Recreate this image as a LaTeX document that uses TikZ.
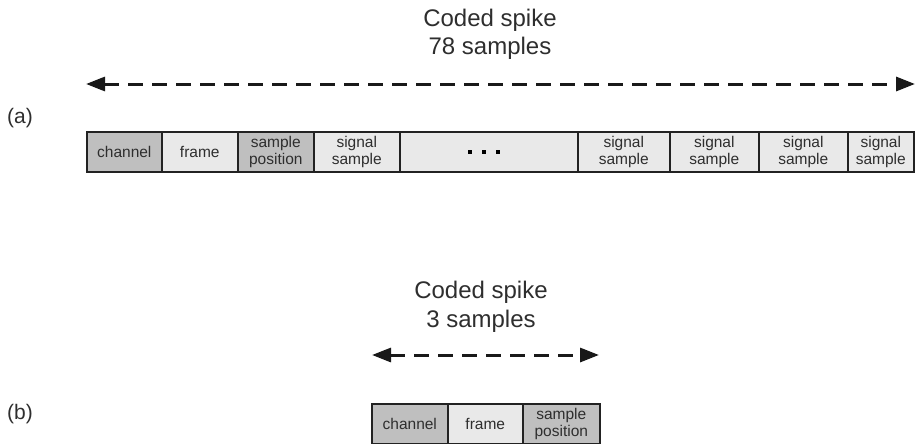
\documentclass[tikz,border=0pt]{standalone}
\usepackage{fontspec}
\setmainfont{Liberation Sans}
\usetikzlibrary{arrows.meta}
\definecolor{celldark}{HTML}{BFBFBF}
\definecolor{celllight}{HTML}{E9E9E9}
\definecolor{ink}{HTML}{2E2E2E}
\definecolor{edge}{HTML}{222222}
\begin{document}
\begin{tikzpicture}[x=1pt,y=-1pt,
  cell/.style={draw=edge, line width=1.6pt, inner sep=0pt, minimum height=40pt,
    anchor=north west, align=center, text=ink,
    font=\fontsize{15.5}{17}\selectfont},
  dark/.style={cell, fill=celldark},
  light/.style={cell, fill=celllight},
  title/.style={align=center, text=ink, anchor=base,
    font=\fontsize{24}{28.5}\selectfont},
  tag/.style={text=ink, font=\fontsize{21}{24}\selectfont},
  span/.style={line width=3pt, draw=black!90, dash pattern=on 15pt off 9pt,
    {Triangle[length=19pt,width=14pt]}-{Triangle[length=19pt,width=14pt]}}]
\useasboundingbox (0,0) rectangle (915,444);

% ---- (a) full coded spike ----
\node[tag] (taga) at (20,118) {(a)};
\node[dark,  minimum width=75pt] (a1) at (86,131) {channel};
\node[light, minimum width=76pt] (a2) at (161,131) {frame};
\node[dark,  minimum width=76pt] (a3) at (237,131) {sample\\position};
\node[light, minimum width=86pt] (a4) at (313,131) {signal\\sample};
\node[light, minimum width=178pt] (a5) at (399,131) {};
\node[light, minimum width=92pt] (a6) at (577,131) {signal\\sample};
\node[light, minimum width=89pt] (a7) at (669,131) {signal\\sample};
\node[light, minimum width=89pt] (a8) at (758,131) {signal\\sample};
\node[light, minimum width=66pt] (a9) at (847,131) {signal\\sample};
\foreach \dx in {-19,-5,9}
  \fill[black] ([shift={(\dx-2.25,-2.25)}]a5.center) rectangle ++(4.5,4.5);

% the base anchor of a two-line title sits on its second line
\node[title] (titlea) at (490,55) {Coded spike\\78 samples};
\coordinate (la) at (86,84);
\coordinate (ra) at (915,84);
\draw[span] (la) -- (ra);

% ---- (b) short coded spike ----
\node[tag] (tagb) at (20,414) {(b)};
\node[dark,  minimum width=76pt] (b1) at (371,403) {channel};
\node[light, minimum width=75pt] (b2) at (447,403) {frame};
\node[dark,  minimum width=77pt] (b3) at (522,403) {sample\\position};

\node[title] (titleb) at (481,327) {Coded spike\\3 samples};
\coordinate (lb) at (372,355);
\coordinate (rb) at (599,355);
\draw[span] (lb) -- (rb);
\end{tikzpicture}
\end{document}
